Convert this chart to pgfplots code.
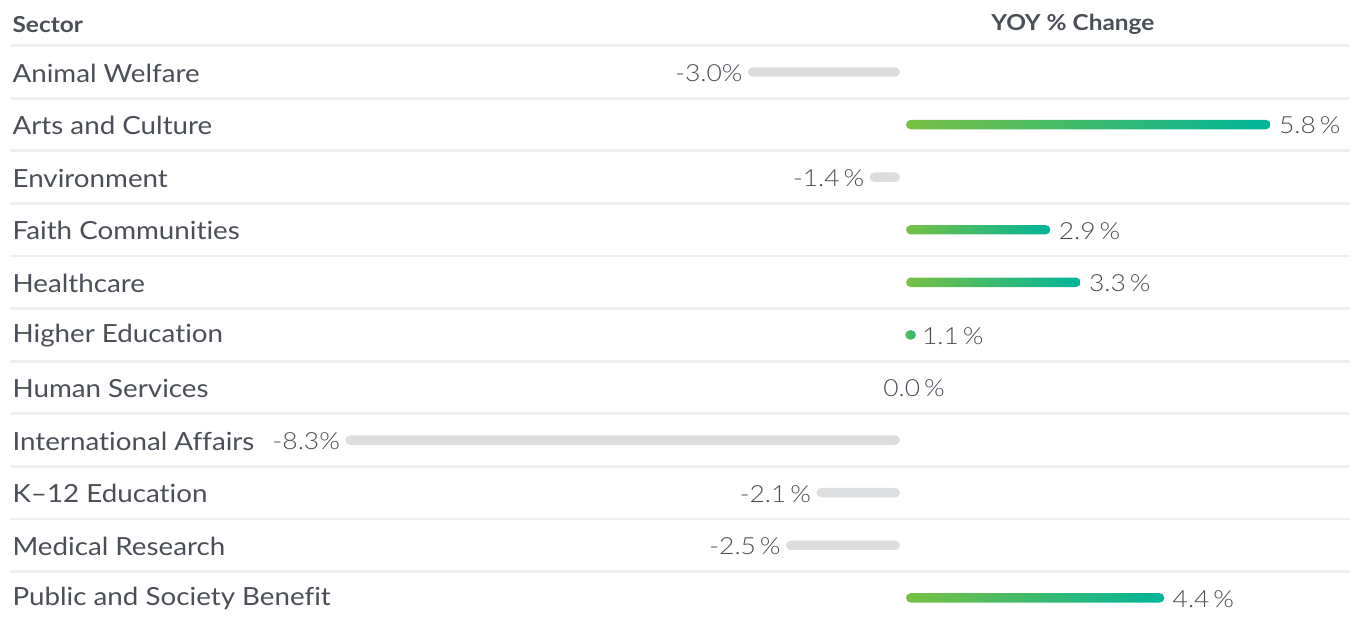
\documentclass[border=0pt]{standalone}
\usepackage{pgfplots}
\pgfplotsset{compat=1.18}
\usepackage{pgfplotstable}
\usepackage{fontspec}
\setmainfont{Lato}[FakeStretch=1.11, Ligatures=NoCommon]
\newfontfamily\lightfont{Lato}[UprightFont=* Light, FakeStretch=1.12, Ligatures=NoCommon]
\definecolor{txt}{HTML}{4A4E57}
\definecolor{val}{HTML}{474B53}
\definecolor{gridc}{HTML}{EEEFF0}
\definecolor{barg}{HTML}{DCDDDF}
\definecolor{gA}{HTML}{78C043}
\definecolor{gB}{HTML}{00B49A}

% label anchors (visible bar ends) and printed values
\pgfplotstableread{
x y lab
4.84 1 {5.8\,\%}
1.94 3 {2.9\,\%}
2.34 4 {3.3\,\%}
0.14 5 {1.1\,\%}
-0.37 6 {0.0\,\%}
3.44 10 {4.4\,\%}
}\posl
\pgfplotstableread{
x y lab
-2.04 0 {-3.0\%}
-0.44 2 {-1.4\,\%}
-7.34 7 {-8.3\%}
-1.14 8 {-2.1\,\%}
-1.54 9 {-2.5\,\%}
}\negl

\begin{document}
\begin{tikzpicture}
\begin{axis}[
  width=677.5pt, height=311pt, scale only axis,
  xmin=-11.882, xmax=5.947, ymin=-1.369, ymax=10.456,
  y dir=reverse, clip=false,
  axis line style={draw=none}, major tick length=0pt,
  xtick=\empty,
  ytick={0,...,10},
  yticklabels={Animal Welfare, Arts and Culture, Environment, Faith Communities, Healthcare, Higher Education, Human Services, International Affairs, K--12 Education, Medical Research, Public and Society Benefit},
  yticklabel style={anchor=west, xshift=6pt, yshift=-0.5pt, inner sep=0pt, font=\fontsize{12.5pt}{14pt}\selectfont, text=txt},
]
% separators
\draw[gridc, line width=1.4pt] (axis cs:-11.75,-0.5) -- (axis cs:5.88,-0.5);
\draw[gridc, line width=1.4pt] (axis cs:-11.75,0.5) -- (axis cs:5.88,0.5);
\draw[gridc, line width=1.4pt] (axis cs:-11.75,1.5) -- (axis cs:5.88,1.5);
\draw[gridc, line width=1.4pt] (axis cs:-11.75,2.5) -- (axis cs:5.88,2.5);
\draw[gridc, line width=1.4pt] (axis cs:-11.75,3.5) -- (axis cs:5.88,3.5);
\draw[gridc, line width=1.4pt] (axis cs:-11.75,4.5) -- (axis cs:5.88,4.5);
\draw[gridc, line width=1.4pt] (axis cs:-11.75,5.5) -- (axis cs:5.88,5.5);
\draw[gridc, line width=1.4pt] (axis cs:-11.75,6.5) -- (axis cs:5.88,6.5);
\draw[gridc, line width=1.4pt] (axis cs:-11.75,7.5) -- (axis cs:5.88,7.5);
\draw[gridc, line width=1.4pt] (axis cs:-11.75,8.5) -- (axis cs:5.88,8.5);
\draw[gridc, line width=1.4pt] (axis cs:-11.75,9.5) -- (axis cs:5.88,9.5);

% negative bars (grey pills)
\addplot[draw=none, fill=barg, rounded corners=2.4pt, mark=none] coordinates {(-2.04,-0.09) (-0.04,-0.09) (-0.04,0.09) (-2.04,0.09)} -- cycle;
\addplot[draw=none, fill=barg, rounded corners=2.4pt, mark=none] coordinates {(-0.44,1.91) (-0.04,1.91) (-0.04,2.09) (-0.44,2.09)} -- cycle;
\addplot[draw=none, fill=barg, rounded corners=2.4pt, mark=none] coordinates {(-7.34,6.91) (-0.04,6.91) (-0.04,7.09) (-7.34,7.09)} -- cycle;
\addplot[draw=none, fill=barg, rounded corners=2.4pt, mark=none] coordinates {(-1.14,7.91) (-0.04,7.91) (-0.04,8.09) (-1.14,8.09)} -- cycle;
\addplot[draw=none, fill=barg, rounded corners=2.4pt, mark=none] coordinates {(-1.54,8.91) (-0.04,8.91) (-0.04,9.09) (-1.54,9.09)} -- cycle;
% positive bars (gradient pills)
\addplot[draw=none, left color=gA, right color=gB, rounded corners=2.4pt, mark=none] coordinates {(0.04,0.91) (4.84,0.91) (4.84,1.09) (0.04,1.09)} -- cycle;
\addplot[draw=none, left color=gA, right color=gB, rounded corners=2.4pt, mark=none] coordinates {(0.04,2.91) (1.94,2.91) (1.94,3.09) (0.04,3.09)} -- cycle;
\addplot[draw=none, left color=gA, right color=gB, rounded corners=2.4pt, mark=none] coordinates {(0.04,3.91) (2.34,3.91) (2.34,4.09) (0.04,4.09)} -- cycle;
\addplot[draw=none, left color=gA!70!gB, right color=gA!40!gB, rounded corners=2.4pt, mark=none] coordinates {(0.03,4.91) (0.17,4.91) (0.17,5.09) (0.03,5.09)} -- cycle;
\addplot[draw=none, left color=gA, right color=gB, rounded corners=2.4pt, mark=none] coordinates {(0.04,9.91) (3.44,9.91) (3.44,10.09) (0.04,10.09)} -- cycle;

% value labels
\addplot[only marks, mark=none, nodes near coords, point meta=explicit symbolic,
  nodes near coords align={anchor=west},
  every node near coord/.append style={xshift=4pt, yshift=-0.5pt, inner sep=0pt, text=val, font=\lightfont\fontsize{11.8pt}{13pt}\selectfont}]
  table[x=x, y=y, meta=lab] {\posl};
\addplot[only marks, mark=none, nodes near coords, point meta=explicit symbolic,
  nodes near coords align={anchor=east},
  every node near coord/.append style={xshift=-2.5pt, yshift=-0.5pt, inner sep=0pt, text=val, font=\lightfont\fontsize{11.8pt}{13pt}\selectfont}]
  table[x=x, y=y, meta=lab] {\negl};

% headers
\node[anchor=west, inner sep=0pt, text=txt, font=\bfseries\fontsize{11pt}{13pt}\selectfont] at (axis cs:-11.724,-0.91) {Sector};
\node[anchor=center, inner sep=0pt, text=txt, font=\bfseries\fontsize{11pt}{13pt}\selectfont] at (axis cs:2.237,-0.91) {YOY \% Change};
\end{axis}
\end{tikzpicture}
\end{document}
